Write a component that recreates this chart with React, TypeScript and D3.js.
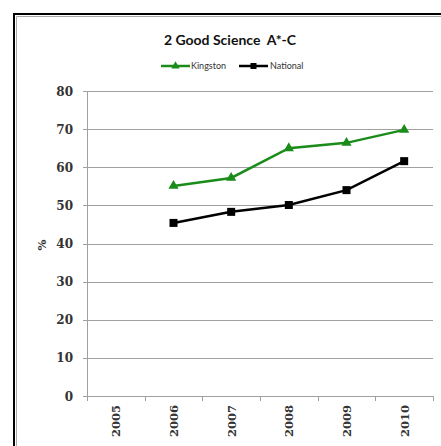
import React from "react";
import * as d3 from "d3";

const years = ["2005", "2006", "2007", "2008", "2009", "2010"];
const kingston: (number | null)[] = [null, 55.1, 57.2, 65.0, 66.4, 69.8];
const national: (number | null)[] = [null, 45.4, 48.3, 50.1, 54.0, 61.6];
const yTicks = [0, 10, 20, 30, 40, 50, 60, 70, 80];

export default function App() {
  const W = 441, H = 446;
  const left = 87, right = 433, top = 91, bottom = 396;
  const x = d3.scaleBand<string>().domain(years).range([left, right]);
  const y = d3.scaleLinear().domain([0, 80]).range([bottom, top]);
  const cx = (i: number) => (x(years[i]) as number) + x.bandwidth() / 2;
  const line = d3
    .line<number | null>()
    .defined((d) => d != null)
    .x((_, i) => cx(i))
    .y((d) => y(d as number));
  const serif = "'DejaVu Serif', 'Liberation Serif', serif";
  const sans = "Lato, 'Open Sans', sans-serif";
  const tri = d3.symbol().type(d3.symbolTriangle).size(30)();
  return (
    <svg
      width={W}
      height={H}
      style={{ position: "absolute", left: 0, top: 0, background: "#fff" }}
    >
      <rect x={0} y={0} width={W} height={H} fill="#fff" />
      {/* frame */}
      <path d={`M14,${H} V14 H${W}`} fill="none" stroke="#000" strokeWidth={2} />
      <path d={`M16.5,${H} V16.5 H${W}`} fill="none" stroke="#aaa" strokeWidth={1} />
      <text
        x={230}
        y={45}
        textAnchor="middle"
        fontFamily={sans}
        fontWeight="bold"
        fontSize={14}
        fill="#111"
      >
        2 Good Science&#160;&#160;A*-C
      </text>
      {/* legend */}
      <g>
        <line x1={161} x2={190} y1={66} y2={66} stroke="#1a8c1a" strokeWidth={2.5} />
        <path d={tri as string} transform="translate(175.5,66)" fill="#1a8c1a" />
        <text x={191} y={69} fontFamily={sans} fontSize={9} fill="#333">
          Kingston
        </text>
        <line x1={239} x2={268} y1={66} y2={66} stroke="#000" strokeWidth={2.5} />
        <rect x={250.5} y={63} width={6} height={6} fill="#000" />
        <text x={270} y={69} fontFamily={sans} fontSize={9} fill="#333">
          National
        </text>
      </g>
      {/* gridlines */}
      {yTicks.map((t) => (
        <g key={t}>
          {t > 0 && (
            <line
              x1={left}
              x2={right}
              y1={Math.round(y(t)) + 0.5}
              y2={Math.round(y(t)) + 0.5}
              stroke="#a0a0a0"
              strokeWidth={1}
            />
          )}
          <line
            x1={left - 4}
            x2={left}
            y1={Math.round(y(t)) + 0.5}
            y2={Math.round(y(t)) + 0.5}
            stroke="#a0a0a0"
          />
          <text
            x={73}
            y={y(t) + 4.5}
            textAnchor="end"
            fontFamily={serif}
            fontWeight="bold"
            fontSize={12}
            fill="#333"
          >
            {t}
          </text>
        </g>
      ))}
      {/* axes */}
      <line x1={left + 0.5} x2={left + 0.5} y1={top} y2={bottom} stroke="#a0a0a0" />
      <line x1={left} x2={right} y1={bottom + 0.5} y2={bottom + 0.5} stroke="#a0a0a0" />
      {years.map((yr) => (
        <line
          key={"t" + yr}
          x1={Math.round(x(yr) as number) + 0.5}
          x2={Math.round(x(yr) as number) + 0.5}
          y1={bottom}
          y2={bottom + 5}
          stroke="#a0a0a0"
        />
      ))}
      <line
        x1={right + 0.5}
        x2={right + 0.5}
        y1={bottom}
        y2={bottom + 5}
        stroke="#a0a0a0"
      />
      {years.map((yr, i) => (
        <text
          key={"l" + yr}
          transform={`translate(${cx(i) + 4.5},${405}) rotate(-90)`}
          textAnchor="end"
          fontFamily={serif}
          fontWeight="bold"
          fontSize={11.5}
          fill="#333"
        >
          {yr}
        </text>
      ))}
      <text
        transform={`translate(46,245) rotate(-90)`}
        textAnchor="middle"
        fontFamily={serif}
        fontWeight="bold"
        fontSize={11.5}
        fill="#333"
      >
        %
      </text>
      {/* series */}
      <path d={line(national) as string} fill="none" stroke="#000" strokeWidth={2.5} />
      {national.map((v, i) =>
        v == null ? null : (
          <rect key={"n" + i} x={cx(i) - 4} y={y(v) - 4} width={8} height={8} fill="#000" />
        )
      )}
      <path d={line(kingston) as string} fill="none" stroke="#1a8c1a" strokeWidth={2.5} />
      {kingston.map((v, i) =>
        v == null ? null : (
          <path
            key={"k" + i}
            d={d3.symbol().type(d3.symbolTriangle).size(45)() as string}
            transform={`translate(${cx(i)},${y(v)})`}
            fill="#1a8c1a"
          />
        )
      )}
    </svg>
  );
}
